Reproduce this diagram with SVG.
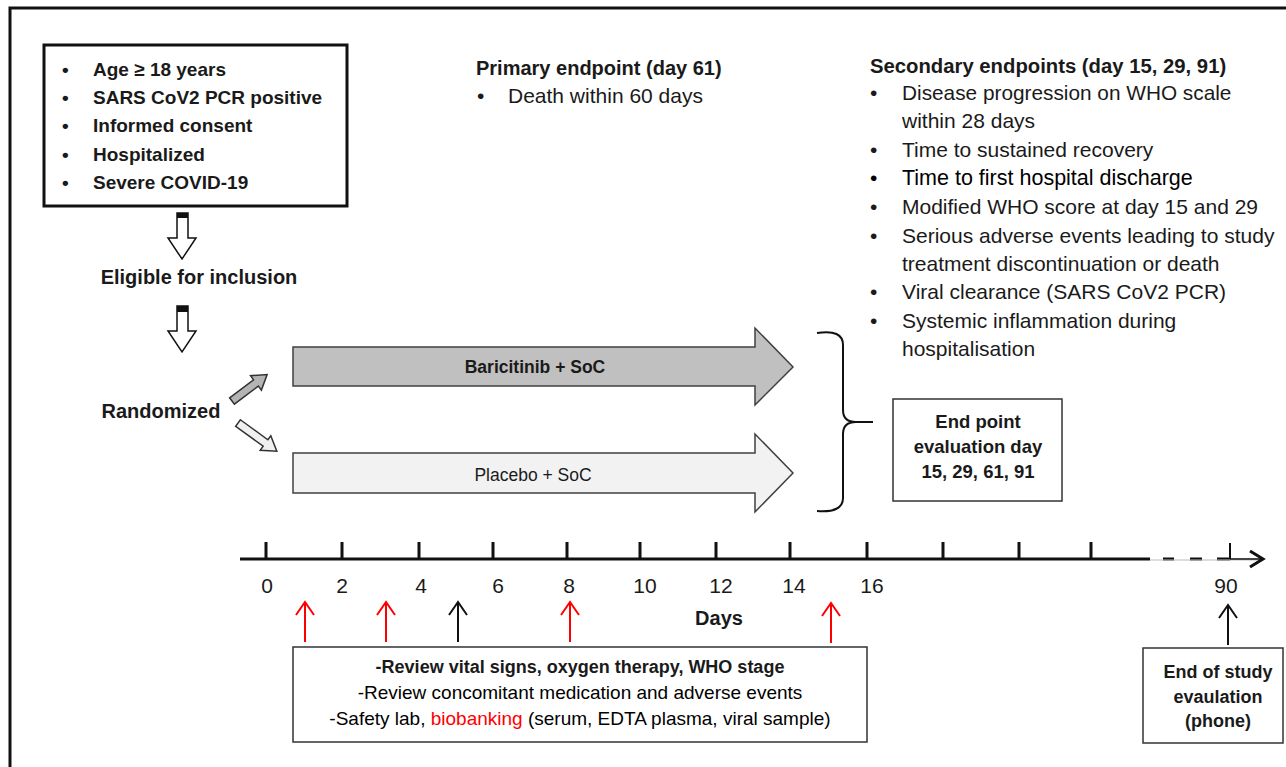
<svg xmlns="http://www.w3.org/2000/svg" width="1286" height="767" viewBox="0 0 1286 767">
<style>
text{font-family:"Liberation Sans",Arial,sans-serif;fill:#1a1a1a}
.b{font-weight:bold}
.n{font-weight:normal}
.box{fill:#fff;stroke:#333;stroke-width:1.5}
.red{fill:none;stroke:#ff0000;stroke-width:2}
.dark{fill:none;stroke:#111;stroke-width:2}
</style>
<defs>
<path id="down" d="M-5,0 H6 V25 H14 L0,46 L-14,25 H-5 Z"/>
<path id="up" d="M-9,13 L0,0 L9,13 M0,0 V40"/>
</defs>
<rect x="10" y="8" width="1290" height="770" fill="#fff" stroke="#111" stroke-width="3"/>

<g id="inclusion">
<rect x="44" y="45" width="303" height="161" fill="#fff" stroke="#111" stroke-width="3"/>
<g class="b" font-size="19">
<text x="62" y="76">•</text><text x="93" y="76">Age ≥ 18 years</text>
<text x="62" y="104">•</text><text x="93" y="104">SARS CoV2 PCR positive</text>
<text x="62" y="132">•</text><text x="93" y="132">Informed consent</text>
<text x="62" y="161">•</text><text x="93" y="161">Hospitalized</text>
<text x="62" y="189">•</text><text x="93" y="189">Severe COVID-19</text>
</g>
</g>

<g id="eligible"><text x="199" y="284" class="b" font-size="20" text-anchor="middle">Eligible for inclusion</text></g>
<g id="randomized"><text x="161" y="418" class="b" font-size="20" text-anchor="middle">Randomized</text></g>

<g id="primary">
<text x="476" y="75" class="b" font-size="20">Primary endpoint (day 61)</text>
<text x="477" y="103" class="n" font-size="21">•</text>
<text x="508" y="103" class="n" font-size="21">Death within 60 days</text>
</g>

<g id="secondary" font-size="21">
<text x="870" y="73" class="b" font-size="20.3">Secondary endpoints (day 15, 29, 91)</text>
<g class="n">
<text x="870" y="100">•</text><text x="902" y="100" font-size="20.8">Disease progression on WHO scale</text>
<text x="902" y="128">within 28 days</text>
<text x="870" y="157">•</text><text x="902" y="157">Time to sustained recovery</text>
<text x="870" y="185" style="fill:#000">•</text><text x="902" y="185" font-size="21.5" style="fill:#000">Time to first hospital discharge</text>
<text x="870" y="214">•</text><text x="902" y="214">Modified WHO score at day 15 and 29</text>
<text x="870" y="243">•</text><text x="902" y="243">Serious adverse events leading to study</text>
<text x="902" y="271">treatment discontinuation or death</text>
<text x="870" y="299">•</text><text x="902" y="299">Viral clearance (SARS CoV2 PCR)</text>
<text x="870" y="328">•</text><text x="902" y="328">Systemic inflammation during</text>
<text x="902" y="356">hospitalisation</text>
</g>
</g>

<g id="baricitinib">
<path d="M293,347 H755 V328 L793,367 L755,405 V386 H293 Z" fill="#c0c0c0" stroke="#404040" stroke-width="1.5"/>
<text x="535" y="373" class="b" font-size="17.5" text-anchor="middle">Baricitinib + SoC</text>
</g>
<g id="placebo">
<path d="M293,453 H755 V434 L793,473 L755,512 V493 H293 Z" fill="#f2f2f2" stroke="#404040" stroke-width="1.5"/>
<text x="533" y="481" class="n" font-size="17.5" text-anchor="middle">Placebo + SoC</text>
</g>

<g id="brace">
<path d="M817,333 Q843,329 843,345 V410 Q843,422 856,422 H873 M856,422 Q843,422 843,434 V498 Q843,513 817,511" fill="none" stroke="#111" stroke-width="2"/>
</g>

<g id="endpoint-eval">
<rect x="893" y="399" width="169" height="102" class="box"/>
<g class="b" font-size="18.5" text-anchor="middle">
<text x="978" y="428">End point</text>
<text x="978" y="453">evaluation day</text>
<text x="978" y="478">15, 29, 61, 91</text>
</g>
</g>

<g id="timeline">
<line x1="240" y1="559" x2="1150" y2="559" stroke="#111" stroke-width="3"/>
<path d="M1163,559 H1174 M1190,559 H1202 M1217,559 H1230" stroke="#111" stroke-width="3"/>
<line x1="1150" y1="560" x2="1262" y2="560" stroke="#bbb" stroke-width="1"/>
<line x1="1230" y1="559" x2="1262" y2="559" stroke="#444" stroke-width="2"/>
<path d="M1250,551 L1263,559 L1250,567" fill="none" stroke="#111" stroke-width="3"/>
<path d="M266,542 V559 M342,542 V559 M419,542 V559 M493,542 V559 M567,542 V559 M640,542 V559 M716,542 V559 M790,542 V559 M867,542 V559 M943,542 V559 M1019,542 V559 M1091,542 V559" stroke="#111" stroke-width="3"/>
<line x1="1230" y1="543" x2="1230" y2="559" stroke="#111" stroke-width="2"/>
<g class="n" font-size="21" text-anchor="middle">
<text x="267" y="593">0</text><text x="342" y="593">2</text><text x="421" y="593">4</text><text x="498" y="593">6</text><text x="569" y="593">8</text><text x="645" y="593">10</text><text x="721" y="593">12</text><text x="794" y="593">14</text><text x="872" y="593">16</text><text x="1226" y="593">90</text>
</g>
<text x="719" y="625" class="b" font-size="20" text-anchor="middle">Days</text>
</g>

<g id="review">
<rect x="293" y="647" width="574" height="95" class="box"/>
<text x="580" y="673" class="b" font-size="18" text-anchor="middle">-Review vital signs, oxygen therapy, WHO stage</text>
<text x="580" y="699" class="n" font-size="19" text-anchor="middle" style="fill:#000">-Review concomitant medication and adverse events</text>
<text x="580" y="725" class="n" font-size="19" text-anchor="middle" style="fill:#000">-Safety lab, <tspan style="fill:#ff0000">biobanking</tspan> (serum, EDTA plasma, viral sample)</text>
</g>

<g id="end-of-study">
<rect x="1143" y="648" width="140" height="95" class="box"/>
<g class="b" font-size="18" text-anchor="middle">
<text x="1218" y="678">End of study</text>
<text x="1218" y="703">evaulation</text>
<text x="1218" y="727">(phone)</text>
</g>
</g>

<g id="connectors">
<g fill="#fff" stroke="#111" stroke-width="1.5">
<use href="#down" x="182" y="213"/>
<use href="#down" x="182" y="306"/>
</g>
<rect x="177" y="213" width="11" height="5" fill="#111"/>
<rect x="177" y="306" width="11" height="6" fill="#111"/>
<path d="M0,-4 H30 V-9 L44,0 L30,9 V4 H0 Z" transform="translate(232,401) rotate(-37)" fill="#b4b4b4" stroke="#333" stroke-width="1.5"/>
<path d="M0,-4 H34 V-9 L48,0 L34,9 V4 H0 Z" transform="translate(238,423) rotate(36)" fill="#f0f0f0" stroke="#333" stroke-width="1.5"/>
<use href="#up" x="305" y="602" class="red"/>
<use href="#up" x="386" y="602" class="red"/>
<use href="#up" x="458" y="602" class="dark"/>
<use href="#up" x="570" y="602" class="red"/>
<use href="#up" x="831" y="603" class="red"/>
<use href="#up" x="1228" y="605" class="dark"/>
</g>
</svg>
